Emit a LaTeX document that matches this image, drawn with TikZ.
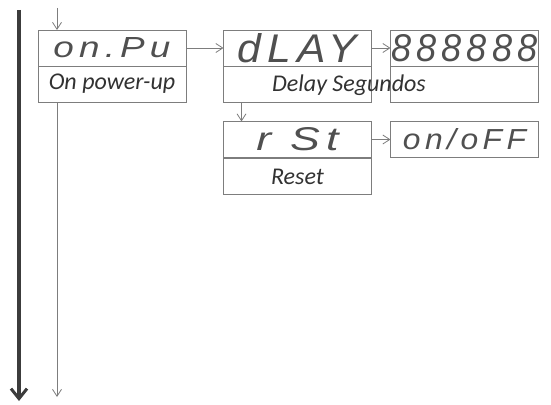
\documentclass[tikz,border=0pt]{standalone}
\usepackage{fontspec}
\usepackage{tikz}
\usetikzlibrary{arrows.meta}
\newfontfamily\segfont{Liberation Sans}[ItalicFont=*-Italic,LetterSpace=14]
\newfontfamily\labfont{Carlito}
\definecolor{boxline}{RGB}{125,125,125}
\definecolor{segcol}{RGB}{80,80,80}
\definecolor{labcol}{RGB}{50,50,50}
\definecolor{mainline}{RGB}{60,60,60}
% display text squeezed to the width/height of the panel
\newcommand{\segtxt}[4][0pt]{\raisebox{-#1}{\resizebox{#2}{#3}{\segfont\itshape #4}}}

\begin{document}
\begin{tikzpicture}[x=1pt,y=-1pt,
  cell/.style={draw=boxline,line width=0.9pt,minimum width=148pt,minimum height=36pt,inner sep=0pt,outer sep=0pt,text=segcol},
  lab/.style={font=\labfont\itshape\fontsize{24}{28}\selectfont,text=labcol},
  thin/.style={draw=boxline,line width=0.8pt,-{Straight Barb[length=7pt,width=9pt]}}]
  \useasboundingbox (0,0) rectangle (551,404);
  % main menu line
  \coordinate (top) at (19,10);
  \coordinate (bot) at (19,401);
  \draw[mainline,line width=3.2pt,-{Straight Barb[length=10pt,width=16pt,line width=3pt]}] (top) -- (bot);
  % on power-up
  \node[cell] (onpu) at (112,48) {\segtxt[7pt]{117pt}{20pt}{on.Pu}};
  \node[cell,lab] (onpul) at (112,84) {On power-up};
  \coordinate (in) at (57,8);
  \coordinate (out) at (57,397);
  \draw[thin] (in) -- (in |- onpu.north);
  \draw[thin] (onpul.south -| out) -- (out);
  % delay
  \node[cell] (dlay) at (297.5,48) {\segtxt{119pt}{29pt}{dLAY}};
  \node[cell] (dlayl) at (297.5,84) {};
  \node[cell] (disp) at (464.5,48) {\segtxt{146pt}{27pt}{888888}};
  \node[cell] (displ) at (464.5,84) {};
  \node[lab] (dlaytxt) at (349,85) {Delay Segundos};
  \draw[thin] (onpu.east) -- (dlay.west);
  \draw[thin] (dlay.east) -- (disp.west);
  % reset
  \node[cell] (rst) at (297.5,139.5) {\segtxt[4pt]{82pt}{23pt}{r St}};
  \node[cell,lab] (rstl) at (297.5,176.5) {Reset};
  \node[cell] (onoff) at (464.5,139.5) {\segtxt[3pt]{123pt}{21pt}{on/oFF}};
  \draw[thin] ([xshift=18pt]dlayl.south west) -- ([xshift=18pt]rst.north west);
  \draw[thin] (rst.east) -- (onoff.west);
\end{tikzpicture}
\end{document}
